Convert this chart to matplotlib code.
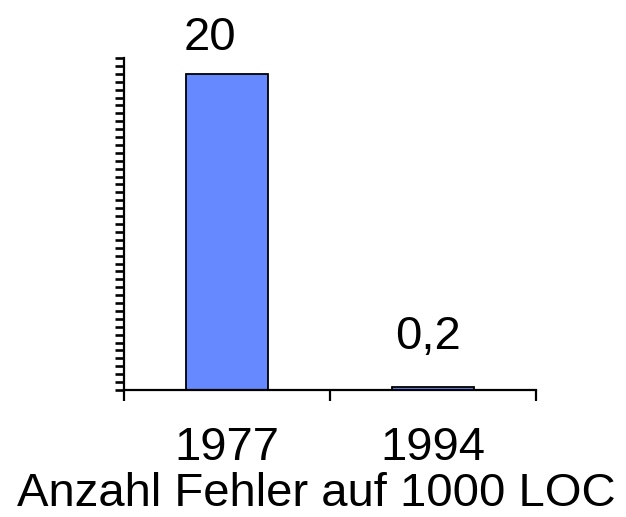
import numpy as np
import matplotlib
matplotlib.use("Agg")
import matplotlib.pyplot as plt
from matplotlib.ticker import MultipleLocator, FixedLocator, NullFormatter

# data
years = ["1977", "1994"]
errors = [20, 0.2]
value_labels = ["20", "0,2"]
x_title = "Anzahl Fehler auf 1000 LOC"

plt.rcParams["font.family"] = ["Liberation Sans", "DejaVu Sans"]

fig = plt.figure(figsize=(6.26, 5.17), dpi=100)
ax = fig.add_axes([124 / 626, 127 / 517, 412 / 626, 332 / 517])

x = np.arange(len(years))
bars = ax.bar(x, errors, 0.4, color="#6689FF", edgecolor="black", linewidth=1.3)

# value labels above bars (offsets in pixels)
label_offsets = [(-17, 24), (-5, 38)]
for i, (val, txt) in enumerate(zip(errors, value_labels)):
    dx, dy = label_offsets[i]
    ax.annotate(txt, xy=(x[i], val), xytext=(dx, dy), textcoords="offset pixels",
                ha="center", va="baseline", fontsize=34)

# axis limits
ax.set_xlim(-0.5, len(years) - 0.5)
ax.set_ylim(0, 21)

# spines
for side in ["top", "right"]:
    ax.spines[side].set_visible(False)
ax.spines["left"].set_linewidth(1.6)
ax.spines["bottom"].set_linewidth(1.6)

# y ticks: every 0.5, no labels
ax.yaxis.set_major_locator(MultipleLocator(0.5))
ax.yaxis.set_major_formatter(NullFormatter())
ax.tick_params(axis="y", which="major", direction="out", length=6.5, width=1.9)

# x ticks: marks at category boundaries, labels at centres
ax.xaxis.set_major_locator(FixedLocator(np.arange(-0.5, len(years), 1.0)))
ax.xaxis.set_major_formatter(NullFormatter())
ax.xaxis.set_minor_locator(FixedLocator(x))
ax.set_xticklabels(years, minor=True, fontsize=34)
ax.tick_params(axis="x", which="major", direction="out", length=8, width=1.6)
ax.tick_params(axis="x", which="minor", length=0, pad=26)

ax.set_xlabel(x_title, fontsize=34, va="baseline")
ax.xaxis.set_label_coords((316.5 - 124) / 412, (390 - 506) / 332)

fig.savefig("out.png", dpi=100)
